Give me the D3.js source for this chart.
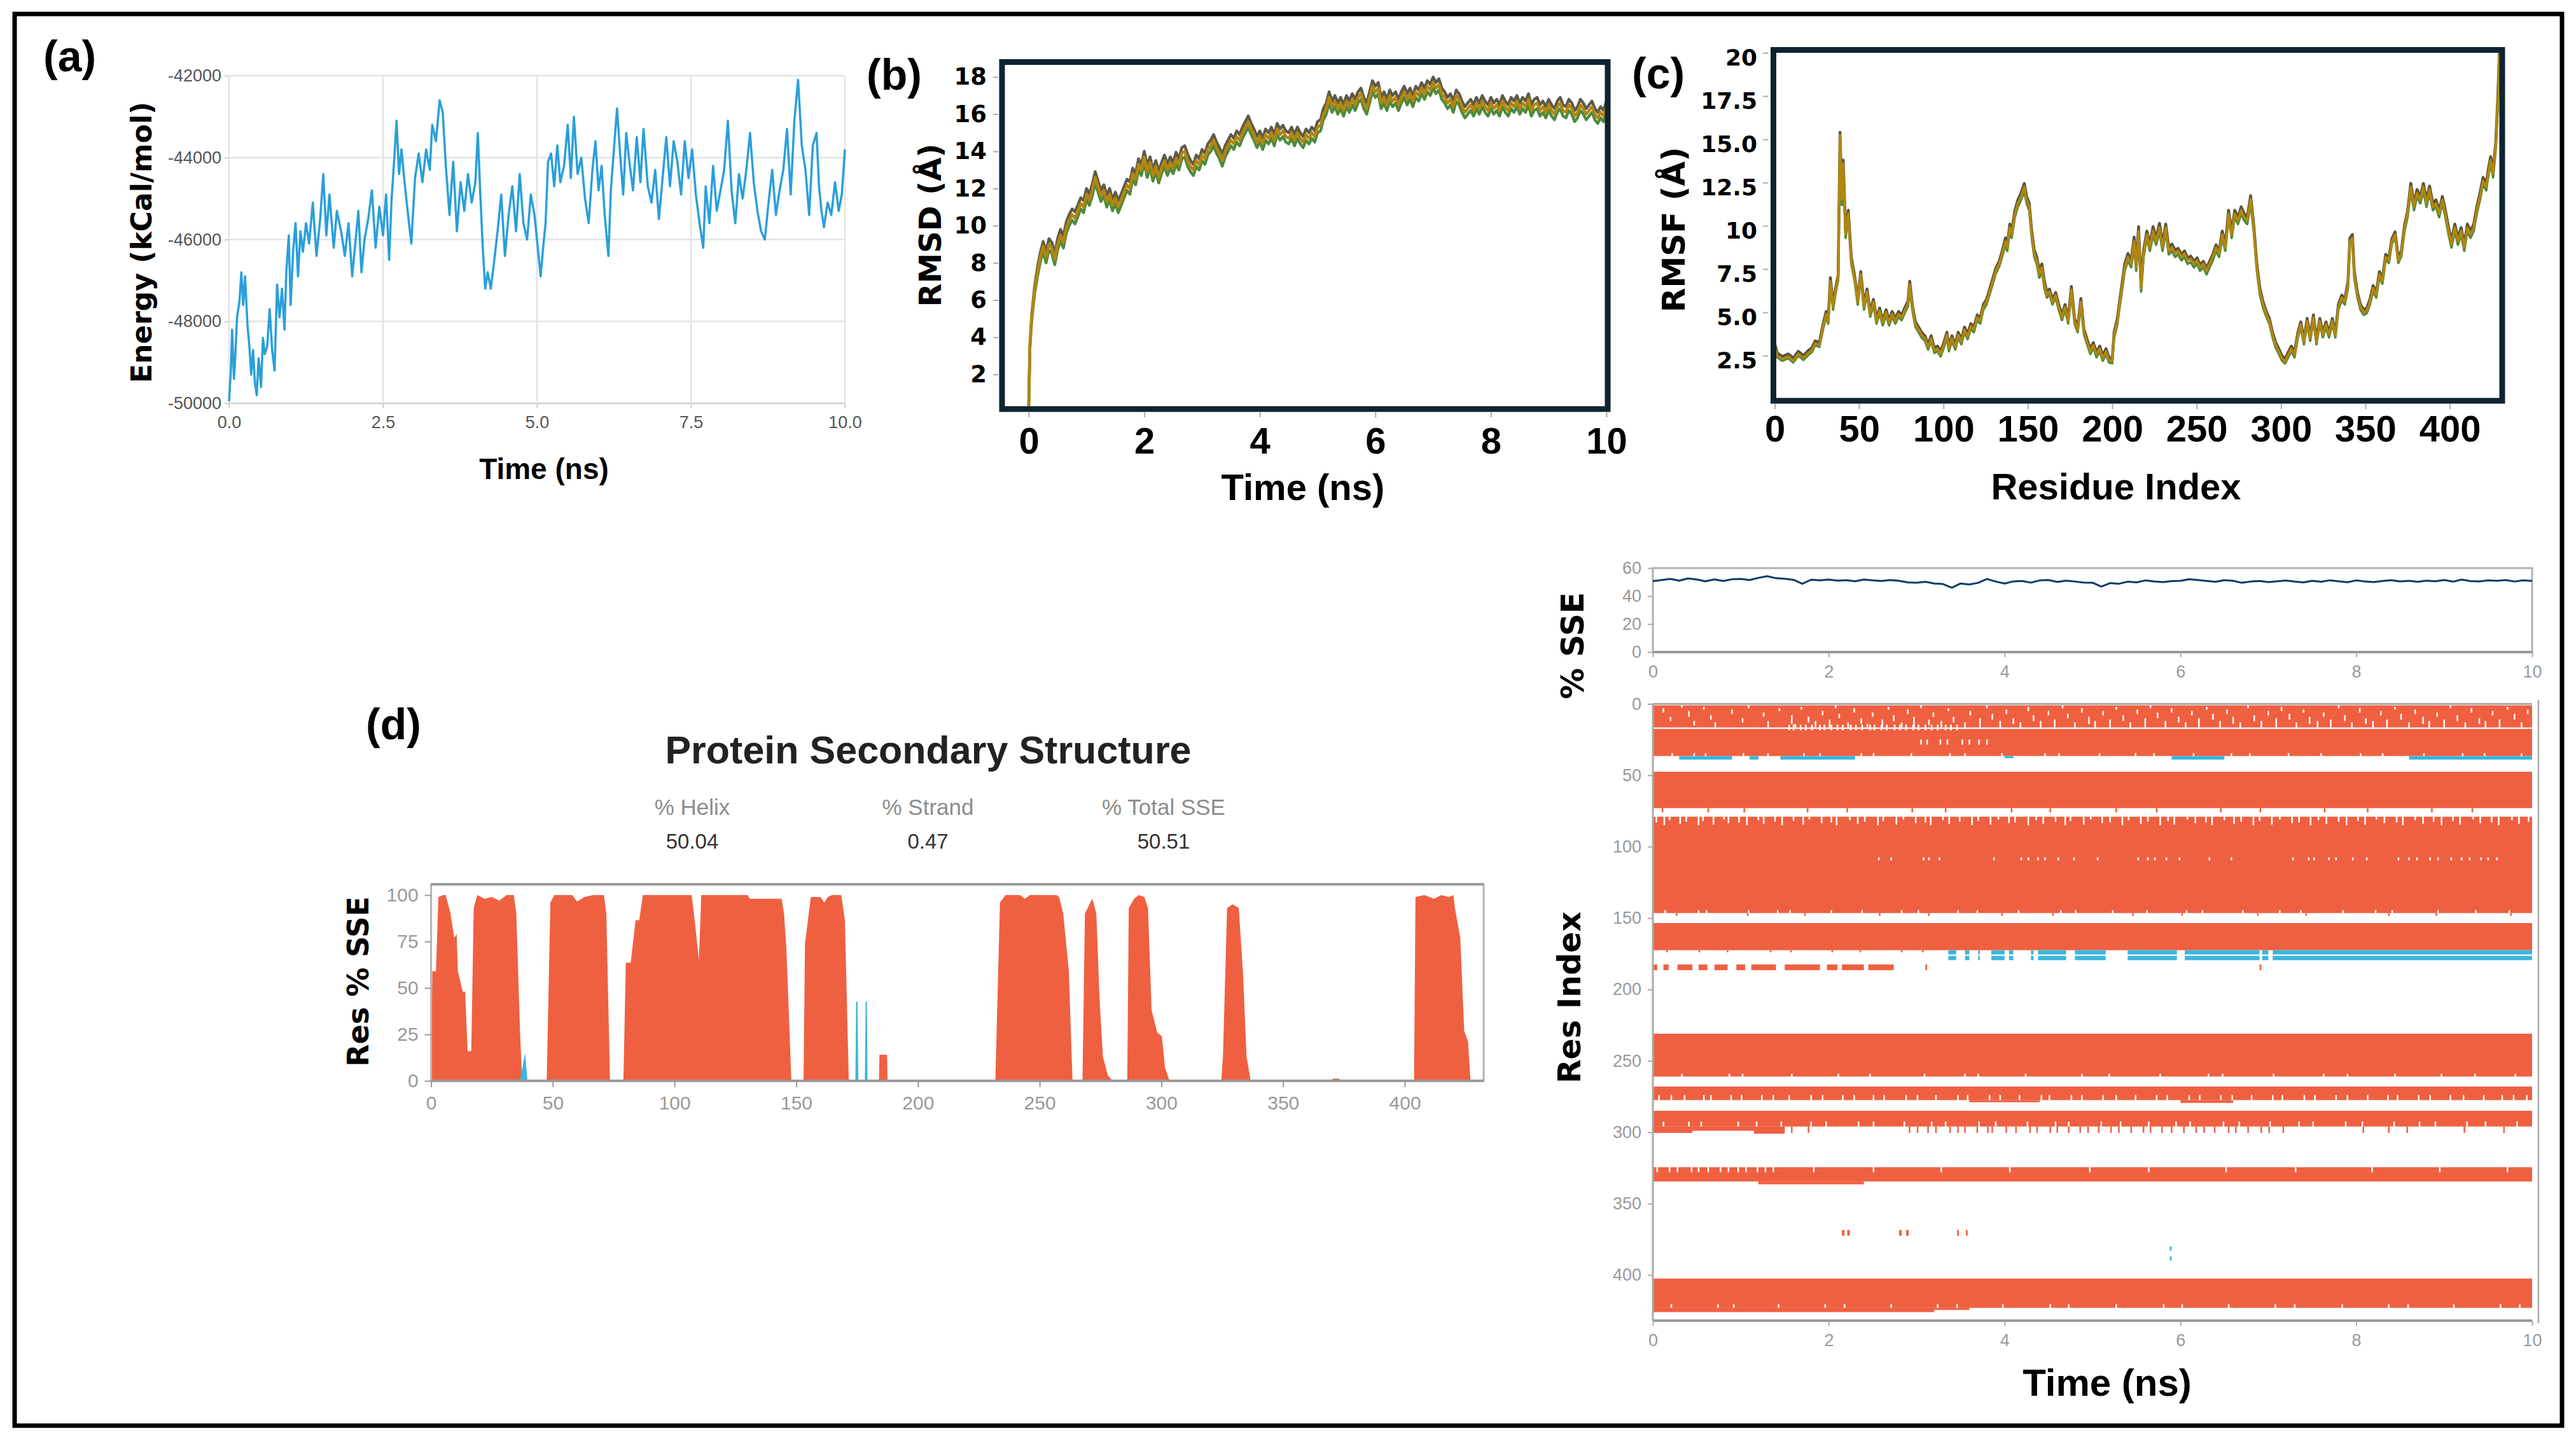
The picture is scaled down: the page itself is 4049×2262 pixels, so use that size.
<!DOCTYPE html>
<html>
<head>
<meta charset="utf-8">
<script src="https://cdn.jsdelivr.net/npm/d3@7"></script>
<style>
html, body { margin: 0; padding: 0; background: #fff; }
svg { display: block; }
</style>
</head>
<body>
<svg id="fig" width="4049" height="2262"></svg>
<script>
// ---------- data ----------
// (a) potential energy, [time ns, kcal/mol]
const energy = [
 [0,-49950],[0.03,-49200],[0.05,-48200],[0.08,-49400],[0.1,-48900],[0.13,-47900],[0.17,-47500],[0.2,-46800],
 [0.23,-47600],[0.26,-46900],[0.3,-48100],[0.33,-48600],[0.36,-49300],[0.39,-48700],[0.42,-49500],[0.45,-49800],
 [0.48,-48900],[0.52,-49600],[0.55,-48400],[0.58,-48800],[0.62,-48600],[0.66,-47700],[0.7,-48700],[0.74,-49200],
 [0.78,-47100],[0.82,-47900],[0.86,-47200],[0.9,-48200],[0.93,-46800],[0.97,-45900],[1.0,-47600],[1.04,-46300],
 [1.08,-45600],[1.12,-46900],[1.16,-45800],[1.2,-46300],[1.25,-45600],[1.3,-46100],[1.36,-45100],[1.42,-46400],
 [1.48,-45500],[1.53,-44400],[1.58,-45900],[1.63,-44900],[1.7,-46200],[1.75,-45300],[1.82,-45800],[1.88,-46400],
 [1.94,-45600],[2.0,-46900],[2.05,-46100],[2.1,-45300],[2.15,-46800],[2.2,-46000],[2.26,-45500],[2.32,-44800],
 [2.38,-46200],[2.44,-45200],[2.5,-45900],[2.55,-44900],[2.6,-46500],[2.64,-45000],[2.68,-44100],[2.72,-43100],
 [2.76,-44400],[2.8,-43800],[2.85,-44600],[2.9,-45300],[2.96,-46100],[3.02,-44500],[3.08,-43900],[3.14,-44600],
 [3.2,-43800],[3.26,-44300],[3.3,-43200],[3.36,-43600],[3.42,-42600],[3.47,-42900],[3.52,-44200],[3.58,-45400],
 [3.64,-44100],[3.7,-45800],[3.76,-44600],[3.82,-45300],[3.88,-44400],[3.94,-45100],[4.0,-44600],[4.04,-43400],
 [4.08,-44900],[4.12,-46200],[4.16,-47200],[4.2,-46800],[4.25,-47200],[4.3,-46600],[4.36,-45800],[4.42,-44900],
 [4.48,-46400],[4.54,-45400],[4.6,-44700],[4.66,-45800],[4.72,-44400],[4.78,-45600],[4.84,-46000],[4.9,-44900],
 [4.96,-45400],[5.02,-46300],[5.06,-46900],[5.1,-46200],[5.14,-45600],[5.18,-44100],[5.23,-43900],[5.28,-44700],
 [5.33,-43700],[5.38,-44600],[5.44,-44200],[5.5,-43200],[5.55,-44500],[5.6,-43000],[5.66,-44400],[5.72,-44000],
 [5.78,-45000],[5.84,-45600],[5.9,-44300],[5.95,-43600],[6.0,-44800],[6.05,-44200],[6.1,-45400],[6.16,-46400],
 [6.2,-44800],[6.25,-43800],[6.3,-42800],[6.35,-43900],[6.4,-44900],[6.45,-43400],[6.5,-44100],[6.56,-44800],
 [6.62,-43500],[6.68,-44600],[6.73,-43300],[6.8,-44700],[6.86,-45100],[6.92,-44300],[6.98,-45500],[7.04,-44500],
 [7.1,-43500],[7.16,-44700],[7.22,-43600],[7.28,-44100],[7.34,-44900],[7.4,-43600],[7.46,-44500],[7.52,-43800],
 [7.58,-44900],[7.64,-45600],[7.7,-46200],[7.74,-44700],[7.8,-45600],[7.86,-44200],[7.92,-45300],[7.98,-44800],
 [8.04,-44300],[8.1,-43100],[8.16,-44800],[8.22,-45600],[8.28,-44400],[8.34,-45000],[8.4,-44300],[8.46,-43400],
 [8.52,-44600],[8.58,-45300],[8.64,-45800],[8.7,-46000],[8.76,-45100],[8.82,-44300],[8.88,-45400],[8.94,-44800],
 [9.0,-44300],[9.06,-43300],[9.12,-44900],[9.18,-43100],[9.24,-42100],[9.3,-43700],[9.36,-44300],[9.42,-45400],
 [9.48,-43700],[9.54,-43400],[9.58,-44700],[9.62,-45300],[9.66,-45700],[9.72,-45100],[9.78,-45400],[9.84,-44600],
 [9.9,-45300],[9.95,-44900],[10.0,-43800]
];
const energyTicks = [-50000, -48000, -46000, -44000, -42000];
const energyTimeTicks = [0, 2.5, 5, 7.5, 10];

// (b) RMSD (Å): first frames at these times, then one frame every 0.05 ns from 0.5 ns
const rmsdEarlyTime = [0, 0.02, 0.05, 0.1, 0.15, 0.2, 0.25, 0.3, 0.35, 0.4, 0.45];
const rmsdStart = 0.5, rmsdStep = 0.05;
const rmsdOrange = [0.3,3.5,5.0,6.5,7.5,8.3,8.9,8.3,9.0,8.8,8.2,
 9.0,9.5,9.1,9.9,10.3,10.6,10.4,10.8,11.2,11.0,
 11.7,11.4,11.9,12.6,12.1,11.6,11.9,11.3,11.7,11.1,
 11.5,11.0,11.4,11.8,12.2,12.0,12.8,12.5,13.3,13.0,
 13.7,12.9,13.4,12.7,13.2,12.6,13.1,13.5,13.0,13.4,
 13.1,13.6,13.3,13.9,14.0,13.5,13.2,13.0,13.5,13.3,
 13.8,13.6,14.1,14.3,14.6,14.2,13.9,13.5,14.0,14.3,
 14.6,14.4,14.8,14.6,15.0,15.3,15.6,15.2,14.9,14.5,
 14.8,14.4,14.9,14.7,15.0,14.6,15.2,14.9,15.1,14.8,
 14.7,15.0,14.6,15.0,14.7,14.5,14.9,14.7,15.0,14.8,
 15.3,15.4,16.0,16.3,16.9,16.4,16.7,16.3,16.6,16.2,
 16.7,16.4,16.8,16.5,16.9,17.1,16.6,16.3,16.9,17.5,
 17.2,17.4,16.6,16.9,16.5,17.0,16.7,16.9,16.5,16.9,
 17.2,16.8,17.1,16.7,17.2,17.0,17.4,17.1,17.5,17.3,
 17.7,17.4,17.6,17.1,16.9,16.6,16.8,16.4,17.0,16.8,
 16.4,16.1,16.3,16.5,16.2,16.6,16.3,16.7,16.4,16.2,
 16.6,16.3,16.5,16.2,16.7,16.4,16.2,16.6,16.4,16.7,
 16.3,16.6,16.4,16.8,16.2,16.5,16.6,16.2,16.4,16.1,
 16.5,16.2,16.0,16.4,16.6,16.2,16.1,16.5,16.3,15.9,
 16.1,16.5,16.3,16.0,16.2,16.4,16.0,15.8,16.1,15.9,
 16.4];
const rmsdGray = [0.3,3.6,5.15,6.7,7.75,8.55,9.15,8.6,9.3,9.1,8.5,
 9.3,9.8,9.45,10.2,10.6,10.9,10.75,11.1,11.5,11.35,
 12.0,11.7,12.25,12.9,12.4,11.9,12.2,11.65,12.0,11.4,
 11.8,11.35,11.7,12.1,12.5,12.35,13.1,12.8,13.6,13.3,
 14.0,13.25,13.7,13.0,13.5,12.95,13.4,13.8,13.3,13.7,
 13.4,13.95,13.6,14.2,14.3,13.85,13.5,13.3,13.8,13.6,
 14.1,13.9,14.4,14.6,14.9,14.5,14.2,13.85,14.3,14.6,
 14.9,14.7,15.1,14.9,15.3,15.6,15.9,15.5,15.2,14.8,
 15.1,14.7,15.2,15.0,15.3,14.9,15.5,15.2,15.4,15.1,
 15.0,15.3,14.9,15.3,15.0,14.8,15.2,15.0,15.3,15.1,
 15.6,15.7,16.3,16.6,17.2,16.7,17.0,16.6,16.9,16.5,
 17.0,16.7,17.1,16.8,17.2,17.4,16.9,16.6,17.2,17.8,
 17.5,17.7,16.9,17.2,16.8,17.3,17.0,17.2,16.8,17.2,
 17.5,17.1,17.4,17.0,17.5,17.3,17.7,17.4,17.8,17.6,
 18.0,17.7,17.9,17.4,17.2,16.9,17.1,16.7,17.3,17.1,
 16.7,16.4,16.6,16.8,16.5,16.9,16.6,17.0,16.7,16.5,
 16.9,16.6,16.8,16.5,17.0,16.7,16.5,16.9,16.7,17.0,
 16.6,16.9,16.7,17.1,16.5,16.8,16.9,16.5,16.7,16.4,
 16.8,16.5,16.3,16.7,16.9,16.5,16.4,16.8,16.6,16.2,
 16.4,16.8,16.6,16.3,16.5,16.7,16.3,16.1,16.4,16.2,
 16.7];
const rmsdGreen = [0.3,3.4,4.85,6.3,7.25,8.05,8.6,8.0,8.7,8.5,7.9,
 8.7,9.2,8.8,9.6,10.0,10.3,10.1,10.5,10.9,10.7,
 11.4,11.1,11.6,12.3,11.8,11.3,11.6,11.0,11.4,10.8,
 11.2,10.7,11.1,11.5,11.9,11.7,12.5,12.2,13.0,12.7,
 13.4,12.6,13.1,12.4,12.9,12.3,12.8,13.2,12.7,13.1,
 12.8,13.3,13.0,13.6,13.7,13.2,12.9,12.7,13.2,13.0,
 13.5,13.3,13.8,14.0,14.3,13.9,13.6,13.2,13.7,14.0,
 14.3,14.1,14.5,14.3,14.7,15.0,15.3,14.9,14.6,14.2,
 14.5,14.1,14.6,14.4,14.7,14.3,14.9,14.6,14.8,14.5,
 14.4,14.7,14.3,14.7,14.4,14.2,14.6,14.4,14.7,14.5,
 15.0,15.1,15.7,16.0,16.6,16.1,16.4,16.0,16.3,15.9,
 16.4,16.1,16.5,16.2,16.6,16.8,16.3,16.0,16.6,17.2,
 16.9,17.1,16.3,16.6,16.2,16.7,16.4,16.6,16.2,16.6,
 16.9,16.5,16.8,16.4,16.9,16.7,17.1,16.8,17.2,17.0,
 17.4,17.1,17.3,16.8,16.6,16.3,16.5,16.1,16.7,16.5,
 16.1,15.8,16.0,16.2,15.9,16.3,16.0,16.4,16.1,15.9,
 16.3,16.0,16.2,15.9,16.4,16.1,15.9,16.3,16.1,16.4,
 16.0,16.3,16.1,16.5,15.9,16.2,16.3,15.9,16.1,15.8,
 16.2,15.9,15.7,16.1,16.3,15.9,15.8,16.2,16.0,15.6,
 15.8,16.2,16.0,15.7,15.9,16.1,15.7,15.5,15.8,15.6,
 16.1];
const rmsdTicks = [2, 4, 6, 8, 10, 12, 14, 16, 18];
const rmsdTimeTicks = [0, 2, 4, 6, 8, 10];

// (c) RMSF per residue (Å), three traces on one residue list
const rmsfResidue = [
 0,1.5,4.5,8,11,14,17,20,22,24,26.5,
 28.7,30.5,31.7,33,34.6,36,37.6,38.7,39.8,40.6,
 42,43.6,45.4,47.3,49.2,51,52.9,54.7,56.6,58.5,
 60.3,62.2,64,66,67.8,69.6,71.5,73.4,75.2,77,
 79,80,81.6,83.4,85.3,87,89,90.9,92.7,94.6,
 96.5,98.3,100.2,102,103.2,105,107,108.7,110.6,112.5,
 114.3,116.2,118,120,121.8,123.6,125.5,127.4,129.2,131,
 133,134.8,136.7,137.8,139.3,140.4,142.3,144.1,146,147.9,
 149.3,150.8,152.3,153.8,155.3,156.8,158.3,159.8,161.3,162.8,
 164.6,166.5,168.3,170.2,172,173.9,175.8,177.7,179.5,181.4,
 183.2,185.1,187,188.8,190.7,192.6,194.4,196.3,198.1,200,
 201.1,203,204.5,206,207.4,209.3,211.2,213,214.2,215.6,
 217.1,218.6,220.5,222.3,224.2,226,228,229.8,231.7,233.5,
 235.4,237.2,239,241,242.8,244.7,246.5,248.4,250.3,252,
 254,255.9,257.7,259.6,261.5,263.3,265.2,267,268.9,270.8,
 272.6,274.5,276.4,278.2,280,282,283.8,285.7,287.5,289.4,
 291.3,293.1,295,296.9,298.7,300.6,302.4,304.3,306.1,308,
 310,311.7,313.6,315.5,317.3,319.2,321,323,324.8,326.6,
 328.5,330.4,332.2,334,336,337.8,339.7,340.8,342.3,343.4,
 345.3,347.1,349,350.8,352.7,354.6,356.4,358.3,360.1,362,
 363.9,365.7,367.6,369.5,371.3,373.2,375,376.9,378.8,380.6,
 382.5,384.4,386.2,388,390,391.8,393.7,395.6,397.4,399.3,
 401,403,404.8,406.7,408.6,410.4,412.3,414.2,416,417.9,
 419.7,421.6,422.7,424.2,425.7,427.2,428.3,429.4,430.5];
const rmsfOrange = [
 3.0,2.5,2.3,2.45,2.2,2.6,2.35,2.65,2.8,3.2,3.1,
 4.2,4.9,4.5,6.8,5.3,6.2,7.0,15.25,11.5,13.6,
 9.5,10.7,8.0,7.0,5.6,7.2,5.3,6.2,4.9,5.6,
 4.5,5.1,4.4,5.0,4.4,4.9,4.5,4.9,4.7,5.1,
 5.5,6.6,5.25,4.3,4.0,3.7,3.5,3.0,3.5,2.8,
 2.9,2.6,3.1,3.7,2.9,3.5,3.0,3.7,3.3,4.0,
 3.6,4.2,4.0,4.7,4.5,5.3,5.6,6.2,6.8,7.4,
 7.8,8.4,9.1,8.75,9.9,9.5,10.7,11.3,11.7,12.25,
 11.5,11.1,9.5,8.4,8.0,7.2,7.6,6.6,6.0,6.2,
 5.6,6.0,5.3,4.7,5.3,4.5,6.3,4.5,4.0,5.6,
 3.9,3.3,2.75,3.1,2.55,2.9,2.35,2.75,2.25,2.15,
 3.7,4.5,5.6,6.6,7.6,8.2,7.8,9.1,7.6,9.7,
 6.4,8.4,9.5,8.75,9.7,9.1,9.9,8.75,9.9,8.55,
 8.75,8.4,8.55,8.2,8.4,8.0,8.1,7.8,8.0,7.6,
 7.8,7.4,7.8,8.2,8.75,8.4,9.5,8.75,10.7,9.5,
 10.7,10.3,10.9,10.5,10.3,11.55,9.9,7.6,6.2,5.45,
 4.9,4.5,3.7,3.1,2.75,2.35,2.15,2.55,2.9,2.55,
 3.7,4.3,3.3,4.5,3.5,4.7,3.3,4.5,3.7,4.3,
 3.7,4.5,3.7,5.3,5.85,5.6,6.6,9.1,9.3,7.2,
 6.0,5.3,5.0,5.1,5.6,6.4,6.0,7.2,6.8,8.2,
 8.0,9.1,9.5,8.0,8.4,9.9,10.7,12.25,11.1,11.9,
 11.5,12.25,11.3,12.1,11.1,11.3,10.7,11.5,10.7,9.7,
 8.95,9.9,9.1,9.7,8.75,9.9,9.5,9.9,10.9,11.7,
 12.6,12.25,13.0,13.8,13.0,14.6,16.9,20.0,18.1];
const rmsfGray = [
 3.2,2.65,2.45,2.6,2.35,2.75,2.5,2.8,2.95,3.35,3.25,
 4.35,5.05,4.65,7.0,5.45,6.35,7.15,15.4,11.7,13.8,
 9.7,10.9,8.2,7.15,5.75,7.35,5.45,6.35,5.05,5.75,
 4.65,5.25,4.55,5.15,4.55,5.05,4.65,5.05,4.85,5.25,
 5.65,6.8,5.4,4.45,4.15,3.85,3.65,3.15,3.65,2.95,
 3.05,2.75,3.25,3.85,3.05,3.65,3.15,3.85,3.45,4.15,
 3.75,4.35,4.15,4.85,4.65,5.45,5.75,6.35,6.95,7.55,
 7.95,8.55,9.3,8.9,10.1,9.65,10.9,11.5,11.9,12.45,
 11.7,11.3,9.7,8.6,8.2,7.4,7.8,6.8,6.15,6.35,
 5.75,6.15,5.45,4.85,5.45,4.65,6.5,4.65,4.15,5.8,
 4.05,3.45,2.9,3.25,2.7,3.05,2.5,2.9,2.4,2.3,
 3.85,4.65,5.75,6.8,7.8,8.4,8.0,9.35,7.8,9.95,
 6.6,8.6,9.7,8.95,9.95,9.3,10.15,8.95,10.1,8.75,
 8.95,8.6,8.7,8.35,8.55,8.15,8.25,7.95,8.15,7.75,
 7.95,7.55,7.95,8.35,8.9,8.55,9.7,8.9,10.9,9.7,
 10.9,10.5,11.1,10.7,10.5,11.75,10.1,7.8,6.4,5.6,
 5.05,4.65,3.85,3.25,2.9,2.5,2.3,2.7,3.05,2.7,
 3.85,4.45,3.45,4.65,3.65,4.85,3.45,4.65,3.85,4.45,
 3.85,4.65,3.85,5.45,6.0,5.75,6.8,9.3,9.5,7.4,
 6.15,5.45,5.15,5.25,5.75,6.55,6.15,7.35,6.95,8.35,
 8.15,9.25,9.65,8.15,8.55,10.05,10.85,12.45,11.3,12.1,
 11.7,12.45,11.5,12.3,11.3,11.5,10.9,11.7,10.9,9.9,
 9.15,10.1,9.3,9.9,8.95,10.1,9.7,10.1,11.1,11.9,
 12.8,12.45,13.2,14.0,13.2,14.8,17.1,20.0,18.3];
const rmsfGreen = [
 2.9,2.4,2.2,2.35,2.1,2.5,2.25,2.55,2.7,3.1,3.0,
 4.05,4.75,4.35,6.6,5.15,6.05,6.85,14.9,11.2,13.3,
 9.3,10.45,7.8,6.85,5.45,7.0,5.15,6.05,4.75,5.45,
 4.35,4.95,4.25,4.85,4.25,4.75,4.35,4.75,4.55,4.95,
 5.35,6.4,5.1,4.15,3.85,3.55,3.35,2.85,3.35,2.65,
 2.75,2.45,2.95,3.55,2.75,3.35,2.85,3.55,3.15,3.85,
 3.45,4.05,3.85,4.55,4.35,5.15,5.45,6.05,6.65,7.25,
 7.65,8.25,8.9,8.55,9.7,9.3,10.5,11.1,11.5,12.0,
 11.3,10.9,9.3,8.2,7.8,7.0,7.4,6.4,5.85,6.05,
 5.45,5.85,5.15,4.55,5.15,4.35,6.1,4.35,3.85,5.4,
 3.75,3.15,2.6,2.95,2.4,2.75,2.2,2.6,2.1,2.05,
 3.5,4.3,5.4,6.4,7.4,8.0,7.6,8.85,7.4,9.45,
 6.2,8.2,9.3,8.55,9.45,8.9,9.65,8.55,9.65,8.35,
 8.55,8.2,8.35,8.0,8.2,7.8,7.9,7.6,7.8,7.4,
 7.6,7.2,7.6,8.0,8.55,8.2,9.3,8.55,10.5,9.3,
 10.5,10.1,10.7,10.3,10.1,11.3,9.7,7.4,6.0,5.25,
 4.75,4.35,3.55,2.95,2.6,2.2,2.05,2.4,2.75,2.4,
 3.55,4.15,3.15,4.35,3.35,4.55,3.15,4.35,3.55,4.15,
 3.55,4.35,3.55,5.15,5.7,5.45,6.4,8.9,9.1,7.0,
 5.85,5.15,4.85,4.95,5.45,6.25,5.85,7.05,6.65,8.05,
 7.85,8.95,9.35,7.85,8.25,9.7,10.5,12.0,10.9,11.7,
 11.3,12.0,11.1,11.9,10.9,11.1,10.5,11.3,10.5,9.5,
 8.75,9.7,8.9,9.5,8.55,9.7,9.3,9.7,10.7,11.5,
 12.4,12.05,12.8,13.6,12.8,14.4,16.6,19.7,17.9];
const rmsfTicks = [2.5, 5, 7.5, 10, 12.5, 15, 17.5, 20];
const rmsfTickLabels = ["2.5", "5.0", "7.5", "10", "12.5", "15.0", "17.5", "20"];
const residueTicks = [0, 50, 100, 150, 200, 250, 300, 350, 400];

// (d) per-residue SSE, [residue, %]
const helixPct = [
 [0,0],[0.5,59],[2,59],[3,99],[5,100],[6,100],[7,95],[8,90],[9.5,77],[10.5,79],[11,59],[13,48],[14,48],[15,16],[16.5,16],
 [17.5,93],[19,100],[22,98],[25,99],[28,97],[31,100],[34,100],[35,90],[36.5,28],[37.4,0],
 [47.5,0],[49,96],[50.6,100],[58,100],[60,96.5],[63,99],[66.5,100],[71,100],[72,90],[73.5,0],
 [79,0],[80,63.6],[82,63.6],[84,86.5],[85.5,86.5],[87,100],[107,100],[108,90],[110,65],[111,100],[130,100],[131,98],
 [144,98],[145,90],[146,70],[148,0],
 [153,0],[153.6,74],[156,99],[160,99],[161.5,96],[163,99],[164.7,100],[168.5,100],[170,86.5],[171.6,0],
 [184,0],[184.2,14],[187.3,14],[187.5,0],
 [231.8,0],[233.7,96],[236,100],[242,100],[243.9,98],[246,100],[257,100],[258,99],[259.7,90],[262,59],[263.5,0],
 [267.6,0],[268.6,90],[270.8,96],[271.7,98],[273.3,90],[274.6,44],[276,13],[278,3],[280,0],
 [286,0],[286.6,93],[288.8,98],[290.7,100],[293,99],[294.5,93],[296,38],[298.3,26],[300.2,24],[301.5,7],[303.4,0],
 [324.6,0],[325.3,13],[327,93],[329.3,95],[331.8,93],[333.5,59],[335,13],[336.7,0],
 [370,0],[370.5,1.2],[373,1.2],[373.5,0],
 [403.8,0],[404.4,99],[408,100],[412,98],[415,100],[418,99],[420,100],[420.6,93],[422.8,77],[424.4,27],[426,21],[427,0],[432,0]
];
const strandPct = [
 [0,0],[36.5,0],[38.6,15],[39.6,0],
 [174.3,0],[174.6,42.6],[175.2,42.6],[175.5,0],
 [178.2,0],[178.5,42.6],[179.0,42.6],[179.3,0],[432,0]
];
const pctTicks = [0, 25, 50, 75, 100];
const sseSummaryLabels = ["% Helix", "% Strand", "% Total SSE"];
const sseSummaryValues = ["50.04", "0.47", "50.51"];

// (d, right) total SSE over time, one value every 0.1 ns
const sseStep = 0.1;
const sseTotal = [
 50.7,51.5,52.3,51.0,52.6,51.8,50.6,51.9,50.8,52.0,
 52.3,51.5,53.0,54.2,52.8,52.4,51.6,48.8,51.7,51.2,
 51.8,51.0,51.4,50.6,51.8,51.2,50.8,51.5,50.9,49.8,
 49.5,50.2,49.0,48.6,46.0,49.0,48.3,49.5,52.2,50.4,
 49.0,50.5,50.8,49.6,51.2,51.5,50.1,51.0,50.4,49.7,
 49.6,46.8,49.3,48.8,50.3,49.8,51.2,50.5,50.0,50.7,
 50.9,52.0,51.5,50.8,50.2,51.4,50.9,49.5,50.4,50.8,
 50.0,50.6,51.1,50.3,49.8,50.9,50.2,51.3,50.6,49.9,
 51.2,50.4,50.0,50.8,51.4,50.5,50.9,50.2,51.0,50.6,
 51.5,50.3,51.8,50.7,50.5,51.2,50.9,51.5,50.4,51.2,
 50.8];
const sseTicks = [0, 20, 40, 60];
const timeTicks10 = [0, 2, 4, 6, 8, 10];
const resTicks = [0, 50, 100, 150, 200, 250, 300, 350, 400];

// SSE timeline blocks, [res from, res to, t from, t to]
const helixBands = [
 [1,16.5,0,10],[17.5,36.5,0,10],[47.5,73,0,10],[79,146.5,0,10],[153.5,172.5,0,10],
 [231,261,0,10],[268,277.5,0,10],[285,296,0,10],[324.5,334.5,0,10],[402.5,423,0,10],
 [423,426,0,3.2],[423,424.5,3.2,3.6],
 [296,300.5,0,0.45],[296,299,0.45,1.15],[296,301,1.15,1.5],
 [277.5,279,3.6,4.4],[277.5,279.5,6.0,6.6],[334.5,336.5,1.2,2.4],
 [182.5,186.5,0,0.05],[182.5,186.5,0.12,0.18],[182.5,186.5,0.28,0.45],[182.5,186.5,0.52,0.62],
 [182.5,186.5,0.7,0.85],[182.5,186.5,0.95,1.05],[182.5,186.5,1.12,1.4],[182.5,186.5,1.5,1.9],
 [182.5,186.5,1.98,2.1],[182.5,186.5,2.15,2.4],[182.5,186.5,2.45,2.74],[182.5,186.5,3.1,3.12],[182.5,186.5,6.9,6.92],
 [368.5,372.5,2.15,2.18],[368.5,372.5,2.21,2.24],[368.5,372.5,2.8,2.83],[368.5,372.5,2.88,2.91],
 [368.5,372.5,3.46,3.48],[368.5,372.5,3.56,3.58]
];
const strandBands = [
 [172.5,175.5,3.36,3.45],[172.5,175.5,3.55,3.6],[172.5,175.5,3.7,3.72],[172.5,175.5,3.85,4.0],
 [172.5,175.5,4.05,4.1],[172.5,175.5,4.3,4.33],[172.5,175.5,4.38,4.7],[172.5,175.5,4.8,5.15],
 [172.5,175.5,5.4,5.96],[172.5,175.5,6.05,6.9],[172.5,175.5,6.93,7.0],[172.5,175.5,7.05,10],
 [176.5,179.5,3.36,3.45],[176.5,179.5,3.55,3.6],[176.5,179.5,3.7,3.72],[176.5,179.5,3.85,4.0],
 [176.5,179.5,4.05,4.1],[176.5,179.5,4.3,4.33],[176.5,179.5,4.38,4.7],[176.5,179.5,4.8,5.15],
 [176.5,179.5,5.4,5.96],[176.5,179.5,6.05,6.9],[176.5,179.5,6.93,7.0],[176.5,179.5,7.05,10],
 [36.5,39,0.3,0.9],[36.5,39,1.1,1.2],[36.5,39,1.45,2.3],[36.5,38,4.0,4.1],[36.5,39,5.9,6.5],[36.5,39,8.6,10],
 [380,383,5.88,5.9],[387,390,5.88,5.9]
];
// single frames where helix residues drop out: [t, res from, res to]
const coilStreaks = [
 [0.12,3,6],[0.2,9,12],[0.33,1,2.5],[0.41,5,9],[0.47,12,15],[0.58,2,4],[0.66,8,11],[0.71,13,16.5],[0.9,4,7],
 [1.02,10,13],[1.09,1,3],[1.26,6,9],[1.31,12,16.5],[1.44,3,5],[1.58,8,14],[1.62,14,17],[1.69,2,4],[1.77,9,13],
 [1.85,12,16.5],[1.93,5,8],[2.01,11,16.5],[2.08,1,3],[2.12,7,10],[2.22,13,16.5],[2.29,3,6],[2.37,10,14],
 [2.44,14,16.5],[2.5,6,9],[2.61,11,16.5],[2.68,2,4],[2.74,8,12],[2.83,13,16.5],[2.9,4,7],[2.97,9,16.5],
 [3.05,1,3],[3.14,11,15],[3.19,6,9],[3.28,12,16.5],[3.36,3,5],[3.42,9,13],[3.55,13,16.5],[3.61,5,8],
 [3.72,10,16.5],[3.8,1,3],[3.86,7,11],[3.95,12,16.5],[4.02,4,7],[4.1,10,14],[4.18,13,16.5],[4.27,2,5],
 [4.33,8,12],[4.41,12,16.5],[4.5,5,8],[4.57,11,16.5],[4.66,1,3],[4.72,7,10],[4.8,13,16.5],[4.88,3,6],
 [4.96,9,14],[5.03,12,16.5],[5.12,5,8],[5.2,11,16.5],[5.27,2,4],[5.35,8,12],[5.43,13,16.5],[5.51,4,7],
 [5.6,10,16.5],[5.66,1,3],[5.74,6,10],[5.83,12,16.5],[5.9,3,6],[5.98,9,13],[6.06,13,16.5],[6.13,5,8],
 [6.21,10,16.5],[6.3,2,4],[6.37,7,11],[6.45,12,16.5],[6.53,4,7],[6.6,9,14],[6.68,13,16.5],[6.77,1,3],
 [6.84,8,12],[6.92,12,16.5],[7.0,5,8],[7.09,10,16.5],[7.15,2,5],[7.24,7,11],[7.32,13,16.5],[7.4,4,6],
 [7.47,9,14],[7.56,12,16.5],[7.63,6,9],[7.71,11,16.5],[7.8,1,3],[7.87,8,12],[7.95,13,16.5],[8.04,3,6],
 [8.11,10,14],[8.19,12,16.5],[8.28,5,8],[8.35,11,16.5],[8.44,2,4],[8.51,7,11],[8.6,13,16.5],[8.67,4,7],
 [8.76,9,14],[8.83,12,16.5],[8.92,6,9],[9.0,11,16.5],[9.07,1,3],[9.15,8,12],[9.24,13,16.5],[9.31,3,6],
 [9.4,10,14],[9.47,12,16.5],[9.55,5,8],[9.63,11,16.5],[9.72,2,4],[9.8,7,11],[9.88,13,16.5],[9.95,4,7],
 [0.04,79,83],[0.13,79,85],[0.19,79,81.5],[0.31,79,84],[0.38,79,82.5],[0.52,79,85],[0.57,79,82],[0.69,79,84.5],
 [0.81,79,81],[0.86,79,83.5],[0.98,79,83],[1.07,79,85],[1.2,79,81.5],[1.26,79,84],[1.39,79,82.5],[1.47,79,85],
 [1.6,79,82],[1.71,79,84.5],[1.78,79,81],[1.92,79,83.5],[2.03,79,83],[2.09,79,85],[2.24,79,81.5],[2.33,79,84],
 [2.41,79,82.5],[2.56,79,85],[2.62,79,82],[2.77,79,84.5],[2.85,79,81],[2.99,79,83.5],[3.1,79,83],[3.16,79,85],
 [3.3,79,81.5],[3.37,79,84],[3.49,79,82.5],[3.63,79,85],[3.7,79,82],[3.84,79,84.5],[3.93,79,81],[4.05,79,83.5],
 [4.12,79,83],[4.27,79,85],[4.36,79,81.5],[4.44,79,84],[4.58,79,82.5],[4.69,79,85],[4.75,79,82],[4.9,79,84.5],
 [4.98,79,81],[5.11,79,83.5],[5.2,79,83],[5.34,79,85],[5.41,79,81.5],[5.55,79,84],[5.63,79,82.5],[5.77,79,85],
 [5.86,79,82],[5.93,79,84.5],[6.08,79,81],[6.17,79,83.5],[6.29,79,83],[6.36,79,85],[6.5,79,81.5],[6.61,79,84],
 [6.69,79,82.5],[6.83,79,85],[6.9,79,82],[7.04,79,84.5],[7.13,79,81],[7.27,79,83.5],[7.35,79,83],[7.48,79,85],
 [7.57,79,81.5],[7.66,79,84],[7.8,79,82.5],[7.89,79,85],[8.02,79,82],[8.1,79,84.5],[8.23,79,81],[8.32,79,83.5],
 [8.46,79,83],[8.53,79,85],[8.67,79,81.5],[8.76,79,84],[8.88,79,82.5],[8.97,79,85],[9.1,79,82],[9.18,79,84.5],
 [9.33,79,81],[9.41,79,83.5],[9.54,79,83],[9.62,79,85],[9.77,79,81.5],[9.85,79,84],[9.96,79,82.5]
];
// frames where a fixed residue range drops out: [res from, res to, times]
const coilFlicker = [
 [14.5, 18.5, [1.55,1.6,1.68,1.74,1.81,1.9,1.95,2.03,2.1,2.16,2.25,2.31,2.38,2.47,2.52,2.6,2.66,2.75,2.81,2.88,2.96,3.02,3.1,3.17,3.24,3.33,3.39,3.46]],
 [25, 28.5, [3.05,3.12,3.27,3.35,3.52,3.6,3.71,3.8]],
 [34.5, 36.5, [0.22,0.47,0.6,1.03,1.31,1.72,1.9,2.37,2.51,2.94,3.38,3.55,3.97,4.46,4.62,5.08,5.49,5.7,6.15,6.58,6.79,7.23,7.6,8.05,8.3,8.77,9.21,9.46,9.88]],
 [107.5, 109.5, [2.57,2.71,3.08,3.14,3.26,3.88,4.19,4.27,4.38,4.46,4.61,4.79,5.06,5.52,5.63,5.71,5.84,5.99,6.33,6.58,7.28,7.46,7.52,7.69,7.77,7.96,8.12,8.48,8.6,8.69,8.84,8.93,9.08,9.2,9.29,9.42,9.5,9.6]],
 [144.5, 146.5, [0.14,0.52,0.61,1.09,1.42,1.56,2.03,2.38,2.83,3.02,3.47,3.69,4.16,4.64,4.81,5.23,5.62,6.07,6.25,6.71,7.13,7.37,7.85,8.22,8.41,8.93,9.36,9.74]],
 [259, 261, [0.33,0.87,1.02,1.58,2.11,2.47,3.09,3.55,3.7,4.24,4.88,5.19,5.77,6.32,6.48,7.06,7.63,7.9,8.44,8.97,9.35,9.81]],
 [274, 277.5, [0.07,0.21,0.36,0.58,0.66,0.89,1.01,1.24,1.37,1.55,1.8,1.93,2.16,2.29,2.51,2.63,2.88,3.01,3.22,3.47,3.58,3.83,3.95,4.17,4.42,4.51,4.76,4.88,5.12,5.27,5.49,5.73,5.85,6.1,6.22,6.46,6.59,6.81,7.05,7.16,7.41,7.53,7.77,7.9,8.13,8.36,8.47,8.71,8.84,9.07,9.22,9.45,9.66,9.79,9.94]],
 [292.5, 296, [0.12,0.41,0.55,0.97,1.18,1.46,1.8,1.97,2.34,2.51,2.86,3.17,3.33,3.71,3.9,4.26,4.58,4.73,5.1,5.32,5.64,5.95,6.11,6.49,6.67,7.02,7.35,7.51,7.88,8.07,8.43,8.72,8.9,9.26,9.47,9.83]],
 [324.5, 328, [0.05,0.19,0.28,0.44,0.52,0.63,0.77,0.86,0.97,1.06,1.19,1.28,1.37,1.83,2.51,3.28,4.06,4.97,5.64,6.52,7.31,8.18,8.95,9.72]],
 [420.5, 423, [0.21,0.74,0.92,1.43,1.96,2.18,2.71,3.24,3.46,3.98,4.52,4.73,5.27,5.81,6.02,6.55,7.08,7.3,7.84,8.37,8.59,9.11,9.64,9.86]]
];
// frames where a coil range briefly turns helical: [res from, res to, times]
const helixFlicker = [
 [296, 300.5, [1.58,1.77,2.92,3.01,3.13,3.22,3.38,3.47,3.55,3.69,3.81,3.86,4.02,4.13,4.29,4.37,4.52,4.6,4.73,4.86,4.95,5.07,5.21,5.3,5.44,5.58,5.66,5.79,5.9,6.04,6.18,6.27,6.39,6.55,6.63,6.77,6.92,7.01,7.17,8.08,8.37,8.58,9.23,9.68]],
 [73, 76, [0.11,0.63,1.04,1.76,2.21,2.95,3.33,4.08,4.52,5.27,5.73,6.46,6.91,7.64,8.13,8.86,9.32]],
 [146.5, 148.5, [0.27,1.08,1.73,2.58,3.14,3.97,4.55,5.46,6.02,6.88,7.43,8.37,8.91,9.76]],
 [172.5, 174, [0.16,0.53,0.85,1.34,1.57,2.04,2.36,2.83,3.07]]
];

// ---------- drawing ----------
const svg = d3.select("#fig");
const ARIAL = "'Liberation Sans', Arial, Helvetica, sans-serif";
const WIDE = "'DejaVu Sans', Verdana, sans-serif";
const helixColor = "#ef6041";
const strandColor = "#3bb6dd";

svg.append("rect").attr("width", 4049).attr("height", 2262).attr("fill", "#fff");
svg.append("rect").attr("x", 23).attr("y", 22).attr("width", 4004).attr("height", 2219)
   .attr("fill", "none").attr("stroke", "#000").attr("stroke-width", 7);

function styleAxis(g, opt) {
    g.attr("font-family", opt.family).attr("font-size", opt.size)
     .attr("font-weight", opt.weight || "normal");
    g.select(".domain").remove();
    g.selectAll(".tick line").attr("stroke", opt.tickColor).attr("stroke-width", opt.tickWidth || 2);
    g.selectAll(".tick text").attr("fill", opt.color);
}

function label(x, y, txt, size, opt = {}) {
    return svg.append("text").attr("x", x).attr("y", y).text(txt)
       .attr("font-family", opt.family || ARIAL).attr("font-size", size)
       .attr("font-weight", opt.weight || "bold").attr("fill", opt.color || "#000")
       .attr("text-anchor", opt.anchor || "start");
}

function vLabel(x, y, txt, size) {
    svg.append("text").attr("transform", `translate(${x},${y}) rotate(-90)`)
       .attr("text-anchor", "middle").attr("font-family", WIDE).attr("font-weight", "bold")
       .attr("font-size", size).attr("fill", "#000").text(txt);
}

// ===== (a) energy =====
const xA = d3.scaleLinear().domain([0, 10]).range([360, 1328]);
const yA = d3.scaleLinear().domain([-50000, -42000]).range([634, 119]);
const gA = svg.append("g");
gA.selectAll(".hg").data(energyTicks).join("line")
  .attr("x1", xA(0)).attr("x2", xA(10)).attr("y1", d => yA(d)).attr("y2", d => yA(d))
  .attr("stroke", d => d === -50000 ? "#cfcfcf" : "#e4e4e4").attr("stroke-width", 2.5);
gA.selectAll(".vg").data(energyTimeTicks).join("line")
  .attr("x1", d => xA(d)).attr("x2", d => xA(d)).attr("y1", yA(-42000)).attr("y2", yA(-50000))
  .attr("stroke", "#e4e4e4").attr("stroke-width", 2.5);
gA.append("g").attr("transform", `translate(${xA(0)},0)`)
  .call(d3.axisLeft(yA).tickValues(energyTicks).tickSize(7).tickPadding(5).tickFormat(d => String(d)))
  .call(g => styleAxis(g, {family: ARIAL, size: 27, color: "#555", tickColor: "#ccc"}));
gA.append("g").attr("transform", `translate(0,${yA(-50000)})`)
  .call(d3.axisBottom(xA).tickValues(energyTimeTicks).tickSize(8).tickPadding(12).tickFormat(d3.format(".1f")))
  .call(g => styleAxis(g, {family: ARIAL, size: 27, color: "#555", tickColor: "#ccc"}));
gA.append("path").datum(energy)
  .attr("d", d3.line().x(d => xA(d[0])).y(d => yA(d[1])))
  .attr("fill", "none").attr("stroke", "#2a9fda").attr("stroke-width", 3.5).attr("stroke-linejoin", "round");
label(68, 112, "(a)", 68);
label(855, 753, "Time (ns)", 46, {anchor: "middle"});
vLabel(238, 381, "Energy (kCal/mol)", 44);

// ===== (b) RMSD =====
const xB = d3.scaleLinear().domain([0, 10]).range([1617, 2525]);
const yB = d3.scaleLinear().domain([0, 18]).range([647, 121]);
const gB = svg.append("g");
const rmsdT = i => i < rmsdEarlyTime.length ? rmsdEarlyTime[i] : rmsdStart + (i - rmsdEarlyTime.length) * rmsdStep;
const lineB = d3.line().defined(d => d != null).x((d, i) => xB(rmsdT(i))).y(d => yB(d));
[[rmsdGray, "#5e5a48"], [rmsdGreen, "#4e8a3b"], [rmsdOrange, "#b3860f"]].forEach(([vals, c]) => {
    gB.append("path").attr("d", lineB(vals)).attr("fill", "none").attr("stroke", c)
      .attr("stroke-width", 4.5).attr("stroke-linejoin", "round");
});
gB.append("rect").attr("x", 1575).attr("y", 97.5).attr("width", 952).attr("height", 545.5)
  .attr("fill", "none").attr("stroke", "#0e2431").attr("stroke-width", 9);
gB.append("g").attr("transform", "translate(1569,0)")
  .call(d3.axisLeft(yB).tickValues(rmsdTicks).tickSize(8).tickPadding(10))
  .call(g => styleAxis(g, {family: WIDE, size: 37, weight: "bold", color: "#000", tickColor: "#aaa"}));
gB.append("g").attr("transform", "translate(0,648)")
  .call(d3.axisBottom(xB).tickValues(rmsdTimeTicks).tickSize(8).tickPadding(16))
  .call(g => styleAxis(g, {family: ARIAL, size: 58, weight: "bold", color: "#000", tickColor: "#aaa"}));
label(1362, 141, "(b)", 68);
label(2048, 786, "Time (ns)", 58, {anchor: "middle"});
vLabel(1479, 354, "RMSD (Å)", 48);

// ===== (c) RMSF =====
const xC = d3.scaleLinear().domain([0, 400]).range([2789.5, 3850.6]);
const yC = d3.scaleLinear().domain([0, 20]).range([627, 83]);
const gC = svg.append("g");
const lineC = d3.line().defined((d, i) => d != null && rmsfResidue[i] != null)
    .x((d, i) => xC(rmsfResidue[i])).y(d => yC(d));
[[rmsfGray, "#57533f", 4.5], [rmsfGreen, "#4e8a3b", 3.8], [rmsfOrange, "#b3860f", 3.8]].forEach(([vals, c, w]) => {
    gC.append("path").attr("d", lineC(vals)).attr("fill", "none").attr("stroke", c)
      .attr("stroke-width", w).attr("stroke-linejoin", "round");
});
gC.append("rect").attr("x", 2787.5).attr("y", 78.5).attr("width", 1145.5).attr("height", 551.5)
  .attr("fill", "none").attr("stroke", "#0e2431").attr("stroke-width", 9);
gC.append("g").attr("transform", "translate(2779,0)")
  .call(d3.axisLeft(yC).tickValues(rmsfTicks).tickSize(8).tickPadding(9)
        .tickFormat((d, i) => rmsfTickLabels[i]))
  .call(g => styleAxis(g, {family: WIDE, size: 36, weight: "bold", color: "#000", tickColor: "#aaa"}))
  .call(g => g.selectAll(".tick text").attr("dy", "0.55em"));
gC.append("g").attr("transform", "translate(0,635)")
  .call(d3.axisBottom(xC).tickValues(residueTicks).tickSize(8).tickPadding(10))
  .call(g => styleAxis(g, {family: ARIAL, size: 58, weight: "bold", color: "#000", tickColor: "#aaa"}));
label(2565, 139, "(c)", 68);
label(3326, 785, "Residue Index", 58, {anchor: "middle"});
vLabel(2648, 361, "RMSF (Å)", 50);

// ===== (d) SSE per residue =====
const xD = d3.scaleLinear().domain([0, 432]).range([677.6, 2330.5]);
const yD = d3.scaleLinear().domain([0, 100]).range([1699, 1407]);
const gD = svg.append("g");
label(575, 1162, "(d)", 68);
label(1459, 1200, "Protein Secondary Structure", 61, {anchor: "middle", color: "#222"});
const xSum = d3.scalePoint().domain(sseSummaryLabels).range([1088, 1829]);
sseSummaryLabels.forEach((s, i) => {
    label(xSum(s), 1281, s, 35, {anchor: "middle", weight: "normal", color: "#8c8c8c"});
    label(xSum(s), 1334, sseSummaryValues[i], 33, {anchor: "middle", weight: "normal", color: "#333"});
});
const areaD = d3.area().x(d => xD(d[0])).y0(yD(0)).y1(d => yD(d[1]));
gD.append("path").datum(helixPct).attr("d", areaD).attr("fill", helixColor);
gD.append("path").datum(strandPct).attr("d", areaD).attr("fill", strandColor);
gD.append("rect").attr("x", 677.6).attr("y", 1390).attr("width", 1654.4).attr("height", 309)
  .attr("fill", "none").attr("stroke", "#b4b4b4").attr("stroke-width", 3);
gD.append("line").attr("x1", 677.6).attr("x2", 2332).attr("y1", 1390).attr("y2", 1390)
  .attr("stroke", "#9a9a9a").attr("stroke-width", 4);
gD.append("line").attr("x1", 677.6).attr("x2", 2332).attr("y1", yD(0)).attr("y2", yD(0))
  .attr("stroke", "#9a9a9a").attr("stroke-width", 4);
gD.append("g").attr("transform", "translate(677.6,0)")
  .call(d3.axisLeft(yD).tickValues(pctTicks).tickSize(10).tickPadding(10))
  .call(g => styleAxis(g, {family: ARIAL, size: 30, color: "#999", tickColor: "#999"}));
gD.append("g").attr("transform", `translate(0,${yD(0)})`)
  .call(d3.axisBottom(xD).tickValues(residueTicks).tickSize(10).tickPadding(14))
  .call(g => styleAxis(g, {family: ARIAL, size: 30, color: "#999", tickColor: "#999"}));
vLabel(579, 1543, "Res % SSE", 46);

// ===== (d, right) total SSE vs time =====
const xS = d3.scaleLinear().domain([0, 10]).range([2598, 3980]);
const yS = d3.scaleLinear().domain([0, 60]).range([1025, 893]);
const gS = svg.append("g");
gS.append("rect").attr("x", 2598).attr("y", 893).attr("width", 1382).attr("height", 132)
  .attr("fill", "none").attr("stroke", "#b0b0b0").attr("stroke-width", 3);
gS.append("line").attr("x1", 2598).attr("x2", 3980).attr("y1", 1025).attr("y2", 1025)
  .attr("stroke", "#999").attr("stroke-width", 4);
gS.append("path").datum(sseTotal)
  .attr("d", d3.line().x((d, i) => xS(i * sseStep)).y(d => yS(d)))
  .attr("fill", "none").attr("stroke", "#0b3a6b").attr("stroke-width", 3).attr("stroke-linejoin", "round");
gS.append("g").attr("transform", "translate(2598,0)")
  .call(d3.axisLeft(yS).tickValues(sseTicks).tickSize(8).tickPadding(10))
  .call(g => styleAxis(g, {family: ARIAL, size: 27, color: "#999", tickColor: "#aaa"}));
gS.append("g").attr("transform", "translate(0,1025)")
  .call(d3.axisBottom(xS).tickValues(timeTicks10).tickSize(8).tickPadding(13))
  .call(g => styleAxis(g, {family: ARIAL, size: 27, color: "#999", tickColor: "#aaa"}));
vLabel(2489, 1015, "% SSE", 49);

// ===== (d, right) SSE timeline per residue =====
const xH = d3.scaleLinear().domain([0, 10]).range([2598, 3980]);
const yH = d3.scaleLinear().domain([0, 432]).range([1106.5, 2076]);
const gH = svg.append("g");
const block = (data, color) => gH.append("g").selectAll("rect").data(data).join("rect")
    .attr("x", d => xH(d[2])).attr("width", d => Math.max(1.5, xH(d[3]) - xH(d[2])))
    .attr("y", d => yH(d[0])).attr("height", d => yH(d[1]) - yH(d[0]))
    .attr("fill", color);
const flicker = (rows, color) => rows.forEach(([r0, r1, times]) => {
    gH.append("g").selectAll("rect").data(times).join("rect")
      .attr("x", t => xH(t) - 1.25).attr("width", 2.5)
      .attr("y", yH(r0)).attr("height", yH(r1) - yH(r0))
      .attr("fill", color);
});
block(helixBands, helixColor);
flicker(helixFlicker, helixColor);
block(strandBands, strandColor);
flicker(coilFlicker, "#fff");
gH.append("g").selectAll("rect").data(coilStreaks).join("rect")
  .attr("x", d => xH(d[0]) - 1.25).attr("width", 2.5)
  .attr("y", d => yH(d[1])).attr("height", d => yH(d[2]) - yH(d[1]))
  .attr("fill", "#fff");
gH.append("line").attr("x1", 2598).attr("x2", 3980).attr("y1", 1106.5).attr("y2", 1106.5)
  .attr("stroke", "#aaa").attr("stroke-width", 3);
gH.append("line").attr("x1", 2598).attr("x2", 2598).attr("y1", 1106.5).attr("y2", 2076)
  .attr("stroke", "#aaa").attr("stroke-width", 3);
gH.append("line").attr("x1", 2598).attr("x2", 3980).attr("y1", 2076).attr("y2", 2076)
  .attr("stroke", "#999").attr("stroke-width", 4);
gH.append("line").attr("x1", 3990).attr("x2", 3990).attr("y1", 1100).attr("y2", 2080)
  .attr("stroke", "#aaa").attr("stroke-width", 2.5);
gH.append("g").attr("transform", "translate(2598,0)")
  .call(d3.axisLeft(yH).tickValues(resTicks).tickSize(8).tickPadding(10))
  .call(g => styleAxis(g, {family: ARIAL, size: 27, color: "#999", tickColor: "#aaa"}));
gH.append("g").attr("transform", "translate(0,2076)")
  .call(d3.axisBottom(xH).tickValues(timeTicks10).tickSize(8).tickPadding(13))
  .call(g => styleAxis(g, {family: ARIAL, size: 27, color: "#999", tickColor: "#aaa"}));
vLabel(2484, 1568, "Res Index", 49);
label(3312, 2194, "Time (ns)", 60, {anchor: "middle"});
</script>
</body>
</html>
